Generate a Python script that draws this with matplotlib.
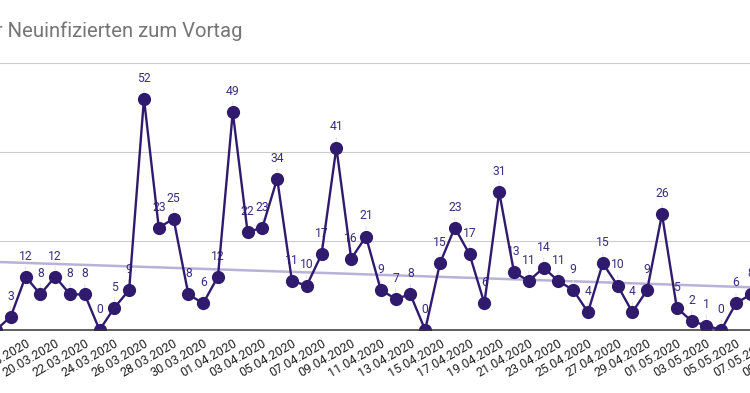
import numpy as np
import pandas as pd
import matplotlib
matplotlib.use("Agg")
import matplotlib.pyplot as plt

plt.rcParams['font.family'] = ['Roboto', 'DejaVu Sans']

# daily new infections compared to the day before
start_date = '2020-03-16'
values = [0, 3, 12, 8, 12, 8, 8, 0, 5, 9, 52, 23, 25, 8, 6, 12, 49, 22, 23, 34,
          11, 10, 17, 41, 16, 21, 9, 7, 8, 0, 15, 23, 17, 6, 31, 13, 11, 14, 11, 9,
          4, 15, 10, 4, 9, 26, 5, 2, 1, 0, 6, 8]
dates = pd.date_range(start_date, periods=len(values))

trend_idx = [0, 51]
trend_vals = [15.3, 9.6]

# x-axis labels every second day
tick_dates = pd.date_range('2020-03-14', '2020-05-09', freq='2D')

title = 'Anstieg der Neuinfizierten zum Vortag'

line_col = '#2f1a6e'
label_col = '#3b2c80'

fig = plt.figure(figsize=(7.5, 3.93), dpi=100)
# chart is wider than the visible picture
ax = fig.add_axes([-0.08, 0.1603, 1.16, 0.6794])

x = np.arange(len(values))
ax.plot(trend_idx, trend_vals, color='#b9b1d8', lw=1.8, zorder=2, solid_capstyle='butt')
ax.plot(x, values, color=line_col, lw=1.7, marker='o', markersize=9.5,
        markeredgewidth=0, zorder=4)

for xi, v in zip(x, values):
    ax.annotate(str(v), xy=(xi, v), xytext=(0, 12.3), textcoords='offset points',
                ha='center', va='baseline', fontsize=8.7, color=label_col, zorder=3,
                arrowprops=dict(arrowstyle='-', color='#e3e3e3', lw=0.8,
                                shrinkA=1, shrinkB=5))

ax.set_xlim(-3.78, 55.0)
ax.set_ylim(0, 60)
ax.set_yticks([0, 20, 40, 60])
ax.set_yticklabels([])
ax.grid(axis='y', color='#cccccc', lw=0.8, zorder=0)
ax.set_axisbelow(True)

tick_pos = [(d - dates[0]).days for d in tick_dates]
ax.set_xticks(tick_pos)
ax.set_xticklabels([d.strftime('%d.%m.%Y') for d in tick_dates], rotation=30,
                   ha='right', rotation_mode='anchor', fontsize=9, color='#222222')
ax.tick_params(axis='both', length=0, pad=5)

for s in ['left', 'right', 'top']:
    ax.spines[s].set_visible(False)
ax.spines['bottom'].set_color('#333333')
ax.spines['bottom'].set_linewidth(1.1)
ax.spines['bottom'].set_zorder(5)

fig.text(242 / 750, 0.906, title, ha='right', va='baseline', fontsize=14.6,
         color='#757575')

fig.savefig('out.png', dpi=100)
